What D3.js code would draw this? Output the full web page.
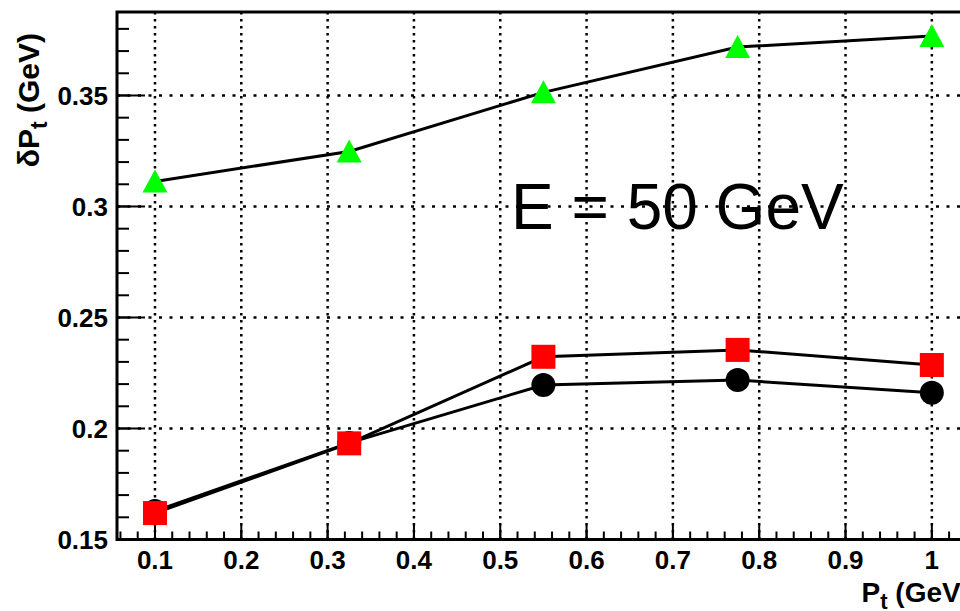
<!DOCTYPE html>
<html>
<head>
<meta charset="utf-8">
<script src="https://cdn.jsdelivr.net/npm/d3@7"></script>
<style>
  body { margin: 0; background: #fff; }
  svg { display: block; }
  text { font-family: "Liberation Sans", Arial, sans-serif; }
</style>
</head>
<body>
<div id="chart"></div>
<script>
const ptValues = [0.1, 0.325, 0.55, 0.775, 1.0];
const greenTriangles = [0.3113, 0.3248, 0.3514, 0.3718, 0.3768];
const redSquares = [0.1619, 0.1933, 0.2323, 0.2354, 0.2286];
const blackCircles = [0.1628, 0.1935, 0.2196, 0.2218, 0.2161];

const xTicks = [0.1, 0.2, 0.3, 0.4, 0.5, 0.6, 0.7, 0.8, 0.9, 1];
const yTicks = [0.15, 0.2, 0.25, 0.3, 0.35];
const xDomain = [0.056, 1.05];
const yDomain = [0.15, 0.3876];

const width = 960;
const height = 611;
const plot = { left: 117, right: 975, top: 12, bottom: 539.5 };

const svg = d3.select('#chart')
  .append('svg')
  .attr('width', width)
  .attr('height', height);

const x = d3.scaleLinear().domain(xDomain).range([plot.left, plot.right]);
const y = d3.scaleLinear().domain(yDomain).range([plot.bottom, plot.top]);

// grid
const grid = svg.append('g');
grid.selectAll('.vgrid')
  .data(xTicks)
  .enter().append('line')
  .attr('x1', d => x(d)).attr('x2', d => x(d))
  .attr('y1', plot.top).attr('y2', plot.bottom)
  .attr('stroke', '#000')
  .attr('stroke-width', 2.5)
  .attr('stroke-dasharray', '2.5 4.5');

grid.selectAll('.hgrid')
  .data(yTicks.slice(1))
  .enter().append('line')
  .attr('x1', plot.left).attr('x2', plot.right)
  .attr('y1', d => y(d)).attr('y2', d => y(d))
  .attr('stroke', '#000')
  .attr('stroke-width', 2.5)
  .attr('stroke-dasharray', '3 7.5');

// minor and major ticks
const xMinor = d3.range(0.06, 1.05, 0.02);
const yMinor = d3.range(0.15, 0.3876, 0.01);

svg.append('g').selectAll('line')
  .data(xMinor)
  .enter().append('line')
  .attr('x1', d => x(d)).attr('x2', d => x(d))
  .attr('y1', plot.bottom).attr('y2', plot.bottom - 8)
  .attr('stroke', '#000').attr('stroke-width', 2);

svg.append('g').selectAll('line')
  .data(xTicks)
  .enter().append('line')
  .attr('x1', d => x(d)).attr('x2', d => x(d))
  .attr('y1', plot.bottom).attr('y2', plot.bottom - 15)
  .attr('stroke', '#000').attr('stroke-width', 2);

svg.append('g').selectAll('line')
  .data(yMinor)
  .enter().append('line')
  .attr('x1', plot.left).attr('x2', plot.left + 12)
  .attr('y1', d => y(d)).attr('y2', d => y(d))
  .attr('stroke', '#000').attr('stroke-width', 2);

svg.append('g').selectAll('line')
  .data(yTicks)
  .enter().append('line')
  .attr('x1', plot.left).attr('x2', plot.left + 28)
  .attr('y1', d => y(d)).attr('y2', d => y(d))
  .attr('stroke', '#000').attr('stroke-width', 2);

// frame
svg.append('rect')
  .attr('x', plot.left).attr('y', plot.top)
  .attr('width', plot.right - plot.left)
  .attr('height', plot.bottom - plot.top)
  .attr('fill', 'none')
  .attr('stroke', '#000')
  .attr('stroke-width', 3);

// tick labels
svg.append('g').selectAll('text')
  .data(xTicks)
  .enter().append('text')
  .attr('x', d => x(d))
  .attr('y', 569)
  .attr('text-anchor', 'middle')
  .attr('font-size', '26px')
  .attr('font-weight', 'bold')
  .text(d => d3.format('~g')(d));

svg.append('g').selectAll('text')
  .data(yTicks)
  .enter().append('text')
  .attr('x', 108)
  .attr('y', d => y(d))
  .attr('dy', '0.36em')
  .attr('text-anchor', 'end')
  .attr('font-size', '26px')
  .attr('font-weight', 'bold')
  .text(d => d3.format('~g')(d));

// axis titles
const xTitle = svg.append('text')
  .attr('x', 970)
  .attr('y', 602)
  .attr('text-anchor', 'end')
  .attr('font-size', '28px')
  .attr('font-weight', 'bold');
xTitle.append('tspan').text('P');
xTitle.append('tspan').attr('dy', '0.3em').attr('font-size', '22px').text('t');
xTitle.append('tspan').attr('dy', '-0.25em').text(' (GeV)');

const yTitle = svg.append('text')
  .attr('transform', 'translate(39,33) rotate(-90)')
  .attr('text-anchor', 'end')
  .attr('font-size', '30px')
  .attr('font-weight', 'bold');
yTitle.append('tspan').text('δP');
yTitle.append('tspan').attr('dy', '0.35em').attr('font-size', '23px').text('t');
yTitle.append('tspan').attr('dy', '-0.27em').text(' (GeV)');

// annotation
svg.append('text')
  .attr('x', 511)
  .attr('y', 229)
  .attr('font-size', '64px')
  .text('E = 50 GeV');

// series
const line = d3.line().x(d => x(d[0])).y(d => y(d[1]));

function drawSeries(values, color, shape) {
  const pts = ptValues.map((p, i) => [p, values[i]]);
  svg.append('path')
    .datum(pts)
    .attr('d', line)
    .attr('fill', 'none')
    .attr('stroke', '#000')
    .attr('stroke-width', 3);

  const g = svg.append('g');
  pts.forEach(d => {
    const cx = x(d[0]);
    const cy = y(d[1]);
    if (shape === 'circle') {
      g.append('circle').attr('cx', cx).attr('cy', cy).attr('r', 12).attr('fill', color);
    } else if (shape === 'square') {
      g.append('rect').attr('x', cx - 12).attr('y', cy - 12).attr('width', 24).attr('height', 24).attr('fill', color);
    } else {
      g.append('path')
        .attr('d', `M${cx},${cy - 12}L${cx + 12.5},${cy + 11}L${cx - 12.5},${cy + 11}Z`)
        .attr('fill', color);
    }
  });
}

drawSeries(blackCircles, '#000', 'circle');
drawSeries(redSquares, '#ff0000', 'square');
drawSeries(greenTriangles, '#00ff00', 'triangle');
</script>
</body>
</html>
